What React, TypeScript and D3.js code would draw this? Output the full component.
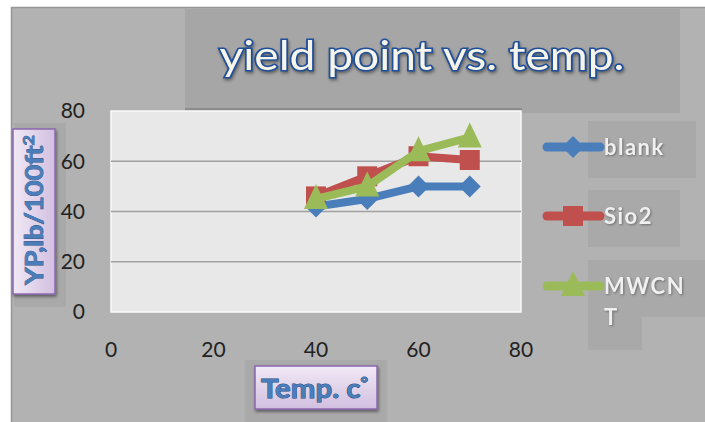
import React from "react";
import * as d3 from "d3";

const temps = [40, 50, 60, 70];
const blank = [42, 45, 50, 50];
const sio2 = [46, 54, 62, 60.5];
const mwcnt = [45, 50, 64, 69.5];
const xTicks = [0, 20, 40, 60, 80];
const yTicks = [0, 20, 40, 60, 80];
const seriesNames = ["blank", "Sio2", "MWCNT"];
const colors = ["#4a7ebb", "#c0504d", "#9bbb59"];

const W = 705, H = 422;
const plot = { left: 111, right: 521, top: 111, bottom: 312 };
const font = "Lato, 'Open Sans', sans-serif";

export default function App() {
  const x = d3.scaleLinear().domain([0, 80]).range([plot.left, plot.right]);
  const y = d3.scaleLinear().domain([0, 80]).range([plot.bottom, plot.top]);
  const line = d3.line<number>().x((_, i) => x(temps[i])).y((d) => y(d));
  const data = [blank, sio2, mwcnt];

  const marker = (k: number, cx: number, cy: number, key: string) => {
    const c = colors[k];
    if (k === 0) {
      const s = 11;
      return <path key={key} d={`M${cx},${cy - s}L${cx + s},${cy}L${cx},${cy + s}L${cx - s},${cy}Z`} fill={c} />;
    }
    if (k === 1) {
      return <rect key={key} x={cx - 10} y={cy - 10} width={20} height={20} fill={c} />;
    }
    return <path key={key} d={`M${cx},${cy - 15}L${cx + 12},${cy + 10}L${cx - 12},${cy + 10}Z`} fill={c} />;
  };

  const legendY = [147, 216, 286];

  return (
    <svg width={W} height={H} style={{ position: "absolute", left: 0, top: 0 }}>
      <defs>
        <linearGradient id="lav" x1="0" y1="0" x2="0" y2="1">
          <stop offset="0" stopColor="#f1e9f6" />
          <stop offset="1" stopColor="#d2bfe0" />
        </linearGradient>
        <linearGradient id="lavh" x1="0" y1="0" x2="1" y2="0">
          <stop offset="0" stopColor="#f1e9f6" />
          <stop offset="1" stopColor="#d2bfe0" />
        </linearGradient>
        <filter id="sh" x="-20%" y="-20%" width="140%" height="140%">
          <feDropShadow dx="1" dy="2" stdDeviation="1.5" floodColor="#000" floodOpacity="0.45" />
        </filter>
      </defs>
      <rect x={0} y={0} width={W} height={H} fill="#ffffff" />
      <rect x={11.5} y={7.5} width={W} height={H} fill="#b2b2b2" stroke="#979797" strokeWidth={1.5} />
      {/* title box */}
      <rect x={185} y={9} width={495} height={104} fill="#a6a6a6" />
      <rect x={185} y={108} width={337} height={3} fill="#8c8c8c" />
      <text x={422} y={70} textAnchor="middle" fontFamily={font} fontSize={40} fill="#f7f5ea"
        stroke="#1f4f9a" strokeWidth={3.2} paintOrder="stroke" textLength={405} lengthAdjust="spacingAndGlyphs"
        style={{ filter: "drop-shadow(1px 2px 1.5px rgba(0,0,0,0.4))" }}>
        yield point vs. temp.
      </text>
      {/* plot area */}
      <rect x={plot.left} y={plot.top} width={plot.right - plot.left} height={plot.bottom - plot.top}
        fill="#e8e8e8" stroke="#fafafa" strokeWidth={1.5} />
      {yTicks.filter((t) => t > 0 && t < 80).map((t) => (
        <line key={t} x1={plot.left} x2={plot.right} y1={y(t)} y2={y(t)} stroke="#a0a0a0" strokeWidth={1.5} />
      ))}
      {xTicks.map((t) => (
        <text key={t} x={x(t)} y={350} dy="0.35em" textAnchor="middle" fontFamily={font} fontSize={21} fill="#222">{t}</text>
      ))}
      {/* series */}
      {data.map((s, k) => (
        <g key={k}>
          <path d={line(s) || ""} fill="none" stroke={colors[k]} strokeWidth={8} strokeLinejoin="round" />
          {s.map((v, i) => marker(k, x(temps[i]), y(v), `${k}-${i}`))}
        </g>
      ))}
      {/* y axis title */}
      <rect x={14} y={123} width={52} height={184} fill="#a9a9a9" />
      <rect x={13} y={129} width={42} height={165} fill="url(#lavh)" stroke="#8a68b0" strokeWidth={1.5} filter="url(#sh)" />
      <text transform={`translate(43,210) rotate(-90)`} textAnchor="middle" fontFamily={font} fontWeight="bold"
        fontSize={24} fill="#4a7ebb" stroke="#24487a" strokeWidth={0.7} paintOrder="stroke"
        textLength={150} lengthAdjust="spacingAndGlyphs">
        YP,lb/100ft<tspan dy="-9" fontSize={16}>2</tspan>
      </text>
      {yTicks.map((t) => (
        <text key={t} x={85} y={y(t)} dy="0.35em" textAnchor="end" fontFamily={font} fontSize={21} fill="#222">{t}</text>
      ))}
      {/* x axis title */}
      <rect x={245} y={360} width={142} height={62} fill="#a9a9a9" />
      <rect x={255} y={366} width={122} height={43} fill="url(#lav)" stroke="#8a68b0" strokeWidth={1.5} filter="url(#sh)" />
      <text x={261} y={398} fontFamily={font} fontWeight="bold" fontSize={26} fill="#4a7ebb"
        stroke="#24487a" strokeWidth={0.9} paintOrder="stroke" textLength={107} lengthAdjust="spacingAndGlyphs">
        Temp. c<tspan dy="-10" fontSize={16}>°</tspan>
      </text>
      {/* legend */}
      <rect x={588} y={121} width={108} height={57} fill="#a9a9a9" />
      <rect x={588} y={190} width={92} height={57} fill="#a9a9a9" />
      <rect x={588} y={260} width={117} height={57} fill="#a9a9a9" />
      <rect x={588} y={317} width={54} height={33} fill="#a9a9a9" />
      {seriesNames.map((n, k) => {
        const ly = legendY[k];
        return (
          <g key={n}>
            <line x1={547} x2={600} y1={ly} y2={ly} stroke={colors[k]} strokeWidth={9} strokeLinecap="round" />
            {marker(k, 573, ly, `lg${k}`)}
          </g>
        );
      })}
      <g fontFamily={font} fontWeight="bold" fontSize={22} fill="#f0f0f0" letterSpacing={1.5}
        style={{ filter: "drop-shadow(1px 1px 1px rgba(0,0,0,0.35))" }}>
        <text x={604} y={155}>blank</text>
        <text x={604} y={224}>Sio2</text>
        <text x={604} y={294}>MWCN</text>
        <text x={604} y={325}>T</text>
      </g>
    </svg>
  );
}
